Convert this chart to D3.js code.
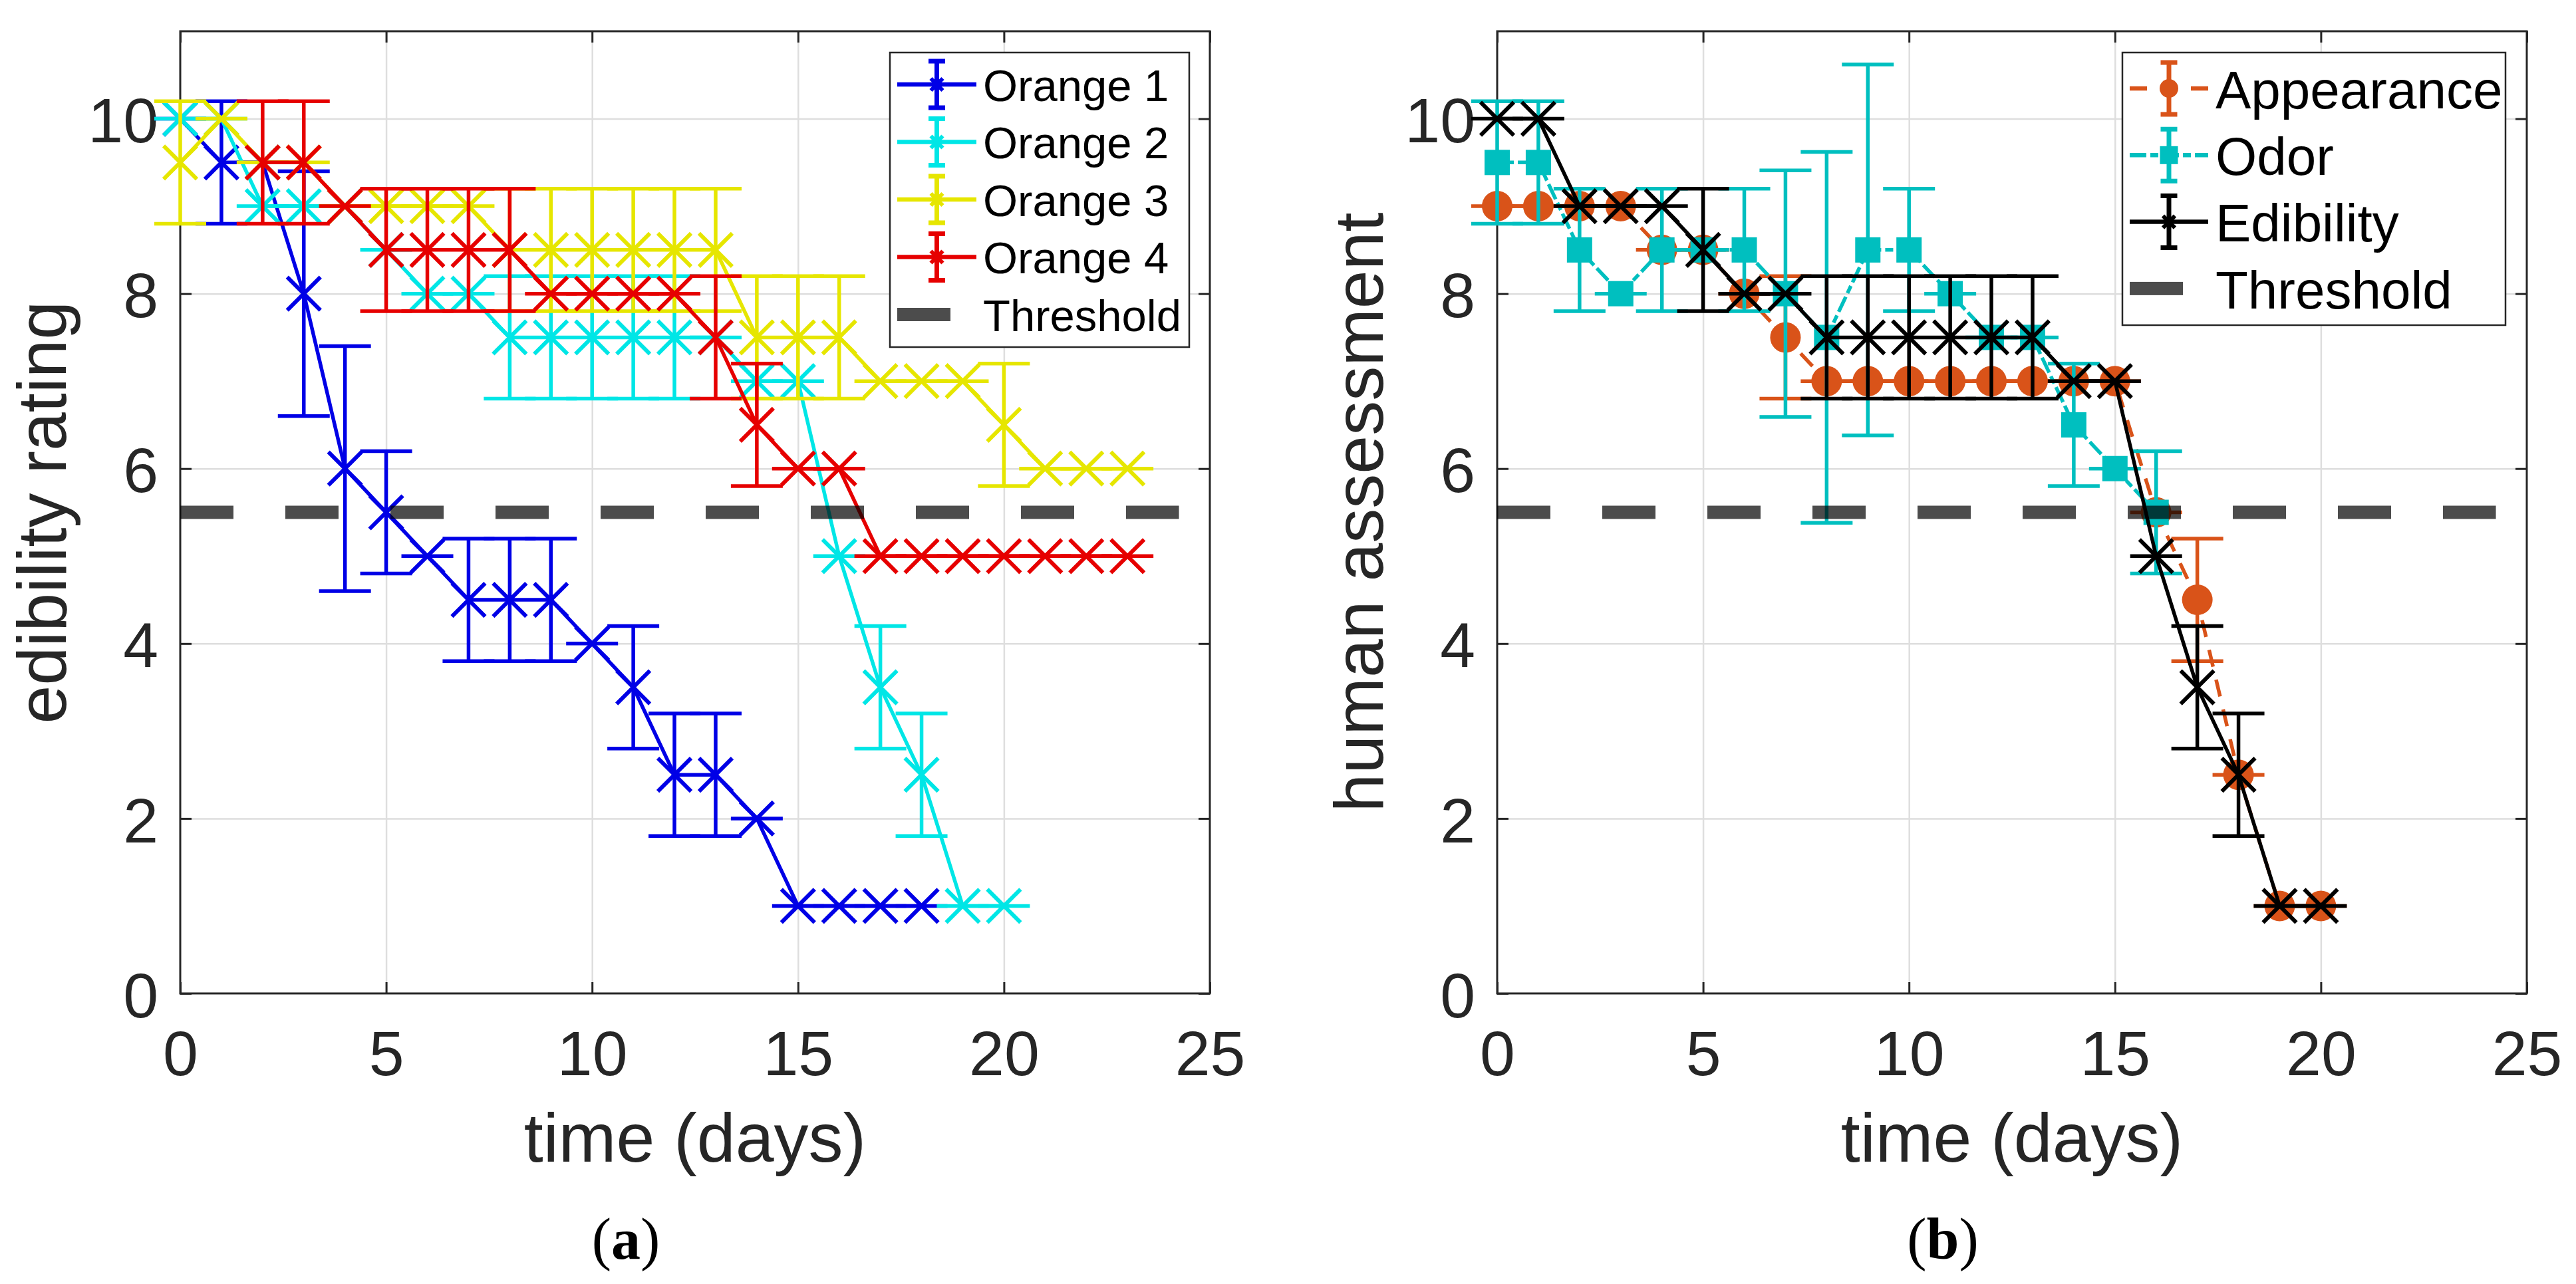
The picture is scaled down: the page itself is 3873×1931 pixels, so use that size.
<!DOCTYPE html>
<html>
<head>
<meta charset="utf-8">
<script src="https://cdn.jsdelivr.net/npm/d3@7"></script>
<style>
  body { margin: 0; background: #fff; }
  svg { display: block; }
</style>
</head>
<body>
<script>

// ---- data ----
const days = [0, 1, 2, 3, 4, 5, 6, 7, 8, 9, 10, 11, 12, 13, 14, 15, 16, 17, 18, 19, 20, 21, 22, 23];
const orange4Days = [2, 3, 4, 5, 6, 7, 8, 9, 10, 11, 12, 13, 14, 15, 16, 17, 18, 19, 20, 21, 22, 23];

const orange1 = [10, 9.5, 9.5, 8, 6, 5.5, 5, 4.5, 4.5, 4.5, 4, 3.5, 2.5, 2.5, 2, 1, 1, 1, 1];
const orange1Err = [0, 0.7, 0, 1.4, 1.4, 0.7, 0, 0.7, 0.7, 0.7, 0, 0.7, 0.7, 0.7, 0, 0, 0, 0, 0];
const orange2 = [10, 10, 9, 9, 9, 8.5, 8, 8, 7.5, 7.5, 7.5, 7.5, 7.5, 7.5, 7, 7, 5, 3.5, 2.5, 1, 1];
const orange2Err = [0, 0, 0, 0, 0, 0, 0, 0, 0.7, 0.7, 0.7, 0.7, 0.7, 0, 0, 0, 0, 0.7, 0.7, 0, 0];
const orange3 = [9.5, 10, 9.5, 9.5, 9, 9, 9, 9, 8.5, 8.5, 8.5, 8.5, 8.5, 8.5, 7.5, 7.5, 7.5, 7, 7, 7, 6.5, 6, 6, 6];
const orange3Err = [0.7, 0, 0, 0, 0, 0, 0, 0, 0.7, 0.7, 0.7, 0.7, 0.7, 0.7, 0.7, 0.7, 0.7, 0, 0, 0, 0.7, 0, 0, 0];
const orange4 = [9.5, 9.5, 9, 8.5, 8.5, 8.5, 8.5, 8, 8, 8, 8, 7.5, 6.5, 6, 6, 5, 5, 5, 5, 5, 5, 5];
const orange4Err = [0.7, 0.7, 0, 0.7, 0.7, 0.7, 0.7, 0, 0, 0, 0, 0.7, 0.7, 0, 0, 0, 0, 0, 0, 0, 0, 0];

const appearance = [9, 9, 9, 9, 8.5, 8.5, 8, 7.5, 7, 7, 7, 7, 7, 7, 7, 7, 5.5, 4.5, 2.5, 1, 1];
const appearanceErr = [0, 0, 0, 0, 0, 0, 0, 0.7, 0, 0, 0, 0, 0, 0, 0, 0, 0, 0.7, 0, 0, 0];
const odor = [9.5, 9.5, 8.5, 8, 8.5, 8.5, 8.5, 8, 7.5, 8.5, 8.5, 8, 7.5, 7.5, 6.5, 6, 5.5];
const odorErr = [0.7, 0.7, 0.7, 0, 0.7, 0, 0.7, 1.41, 2.12, 2.12, 0.7, 0, 0, 0, 0.7, 0, 0.7];
const edibility = [10, 10, 9, 9, 9, 8.5, 8, 8, 7.5, 7.5, 7.5, 7.5, 7.5, 7.5, 7, 7, 5, 3.5, 2.5, 1, 1];
const edibilityErr = [0, 0, 0, 0, 0, 0.7, 0, 0, 0.7, 0.7, 0.7, 0.7, 0.7, 0.7, 0, 0, 0, 0.7, 0.7, 0, 0];

const threshold = 5.5;
const thresholdDays = [0, 24.25];

const xTicks = [0, 5, 10, 15, 20, 25];
const yTicks = [0, 2, 4, 6, 8, 10];

// ---- layout ----
const W = 3873, H = 1931;
const plotTop = 47, plotBottom = 1494;
const sans = "'Liberation Sans', Arial, Helvetica, sans-serif";
const axisColor = "#262626";

const svg = d3.select("body").append("svg")
    .attr("width", W)
    .attr("height", H);

const panels = [
    {
        left: 271, right: 1819,
        ylabel: "edibility rating",
        caption: "a", captionX: 941,
        series: [
            { name: "Orange 1", x: days, y: orange1, e: orange1Err, color: "#0000e6", marker: "x" },
            { name: "Orange 2", x: days, y: orange2, e: orange2Err, color: "#00e6e6", marker: "x" },
            { name: "Orange 3", x: days, y: orange3, e: orange3Err, color: "#e6e600", marker: "x" },
            { name: "Orange 4", x: orange4Days, y: orange4, e: orange4Err, color: "#e60000", marker: "x" }
        ],
        legend: { x0: 1338, x1: 1788, y0: 79, y1: 522, firstRow: 127, step: 86.5,
                  lineX0: 1349, lineX1: 1468, textX: 1478, fontSize: 67, errHalf: 35 }
    },
    {
        left: 2251, right: 3799,
        ylabel: "human assessment",
        caption: "b", captionX: 2921,
        series: [
            { name: "Appearance", x: days, y: appearance, e: appearanceErr, color: "#d95319", marker: "o", dash: "26,20" },
            { name: "Odor", x: days, y: odor, e: odorErr, color: "#00bfbf", marker: "s", dash: "25,6,12,6" },
            { name: "Edibility", x: days, y: edibility, e: edibilityErr, color: "#000000", marker: "x" }
        ],
        legend: { x0: 3191, x1: 3767, y0: 79, y1: 489, firstRow: 133, step: 100.3,
                  lineX0: 3202, lineX1: 3320, textX: 3331, fontSize: 80, errHalf: 39 }
    }
];

function drawMarker(g, shape, cx, cy, color, big) {
    if (shape === "x") {
        const r = big ? 25 : 9;
        g.append("path")
            .attr("d", `M${cx - r},${cy - r}L${cx + r},${cy + r}M${cx - r},${cy + r}L${cx + r},${cy - r}`)
            .attr("stroke", color)
            .attr("stroke-width", 6)
            .attr("fill", "none");
    } else if (shape === "o") {
        g.append("circle")
            .attr("cx", cx).attr("cy", cy)
            .attr("r", big ? 23 : 14)
            .attr("fill", color);
    } else if (shape === "s") {
        const s = big ? 38 : 27;
        g.append("rect")
            .attr("x", cx - s / 2).attr("y", cy - s / 2)
            .attr("width", s).attr("height", s)
            .attr("fill", color);
    }
}

panels.forEach(p => {
    const g = svg.append("g");
    const x = d3.scaleLinear().domain([0, 25]).range([p.left, p.right]);
    const y = d3.scaleLinear().domain([0, 11]).range([plotBottom, plotTop]);

    // grid
    g.append("g")
        .attr("transform", `translate(0,${plotBottom})`)
        .call(d3.axisBottom(x).tickValues(xTicks.slice(1, -1)).tickSize(-(plotBottom - plotTop)).tickFormat(""))
        .call(a => a.select(".domain").remove())
        .selectAll("line").attr("stroke", "#dedede").attr("stroke-width", 2.5);
    g.append("g")
        .attr("transform", `translate(${p.left},0)`)
        .call(d3.axisLeft(y).tickValues(yTicks.slice(1)).tickSize(-(p.right - p.left)).tickFormat(""))
        .call(a => a.select(".domain").remove())
        .selectAll("line").attr("stroke", "#dedede").attr("stroke-width", 2.5);

    // frame
    g.append("rect")
        .attr("x", p.left).attr("y", plotTop)
        .attr("width", p.right - p.left).attr("height", plotBottom - plotTop)
        .attr("fill", "none")
        .attr("stroke", axisColor)
        .attr("stroke-width", 3);

    // axes with inward ticks on all sides
    const styleAxis = a => {
        a.select(".domain").remove();
        a.selectAll("line").attr("stroke", axisColor).attr("stroke-width", 3);
        a.selectAll("text")
            .attr("fill", axisColor)
            .style("font-family", sans)
            .style("font-size", "95px");
    };
    g.append("g")
        .attr("transform", `translate(0,${plotBottom})`)
        .call(d3.axisBottom(x).tickValues(xTicks).tickSizeInner(-17).tickSizeOuter(0).tickPadding(56))
        .call(styleAxis);
    g.append("g")
        .attr("transform", `translate(0,${plotTop})`)
        .call(d3.axisTop(x).tickValues(xTicks).tickSizeInner(-17).tickSizeOuter(0).tickFormat(""))
        .call(styleAxis);
    g.append("g")
        .attr("transform", `translate(${p.left},0)`)
        .call(d3.axisLeft(y).tickValues(yTicks).tickSizeInner(-17).tickSizeOuter(0).tickPadding(33))
        .call(styleAxis)
        .selectAll("text").attr("dy", "0.37em");
    g.append("g")
        .attr("transform", `translate(${p.right},0)`)
        .call(d3.axisRight(y).tickValues(yTicks).tickSizeInner(-17).tickSizeOuter(0).tickFormat(""))
        .call(styleAxis);

    // axis titles
    g.append("text")
        .attr("x", (p.left + p.right) / 2)
        .attr("y", 1747)
        .attr("text-anchor", "middle")
        .attr("fill", axisColor)
        .style("font-family", sans)
        .style("font-size", "104px")
        .text("time (days)");
    g.append("text")
        .attr("transform", `translate(${p.left - 172},${(plotTop + plotBottom) / 2}) rotate(-90)`)
        .attr("text-anchor", "middle")
        .attr("fill", axisColor)
        .style("font-family", sans)
        .style("font-size", "104px")
        .text(p.ylabel);

    // caption
    const cap = g.append("text")
        .attr("x", p.captionX)
        .attr("y", 1893)
        .attr("text-anchor", "middle")
        .attr("fill", "#000")
        .style("font-family", "'Liberation Serif', 'Times New Roman', serif")
        .style("font-size", "88px");
    cap.append("tspan").text("(");
    cap.append("tspan").style("font-weight", "bold").text(p.caption);
    cap.append("tspan").text(")");

    // series
    const capHalf = 39;
    p.series.forEach(s => {
        const sg = g.append("g");
        const pts = s.y.map((v, i) => ({ d: s.x[i], v: v, e: s.e[i] }));

        sg.append("path")
            .datum(pts)
            .attr("fill", "none")
            .attr("stroke", s.color)
            .attr("stroke-width", 5.5)
            .attr("stroke-dasharray", s.dash || null)
            .attr("d", d3.line().x(d => x(d.d)).y(d => y(d.v)));

        pts.forEach(pt => {
            const cx = x(pt.d), yHi = y(pt.v + pt.e), yLo = y(pt.v - pt.e);
            sg.append("path")
                .attr("d", `M${cx},${yHi}L${cx},${yLo}M${cx - capHalf},${yHi}L${cx + capHalf},${yHi}M${cx - capHalf},${yLo}L${cx + capHalf},${yLo}`)
                .attr("stroke", s.color)
                .attr("stroke-width", 5.5)
                .attr("fill", "none");
        });

        pts.forEach(pt => drawMarker(sg, s.marker, x(pt.d), y(pt.v), s.color, true));
    });

    // threshold
    g.append("line")
        .attr("x1", x(thresholdDays[0])).attr("x2", x(thresholdDays[1]))
        .attr("y1", y(threshold)).attr("y2", y(threshold))
        .attr("stroke", "#000")
        .attr("stroke-opacity", 0.7)
        .attr("stroke-width", 20)
        .attr("stroke-dasharray", "80,78");

    // legend
    const L = p.legend;
    const lg = g.append("g");
    lg.append("rect")
        .attr("x", L.x0).attr("y", L.y0)
        .attr("width", L.x1 - L.x0).attr("height", L.y1 - L.y0)
        .attr("fill", "#fff")
        .attr("stroke", axisColor)
        .attr("stroke-width", 2.5);
    const entries = p.series.concat([{ name: "Threshold", threshold: true }]);
    const mid = (L.lineX0 + L.lineX1) / 2;
    entries.forEach((e, i) => {
        const cy = L.firstRow + i * L.step;
        if (e.threshold) {
            lg.append("rect")
                .attr("x", L.lineX0).attr("y", cy - 10)
                .attr("width", 80).attr("height", 20)
                .attr("fill", "#000").attr("fill-opacity", 0.7);
        } else {
            lg.append("line")
                .attr("x1", L.lineX0).attr("x2", L.lineX1)
                .attr("y1", cy).attr("y2", cy)
                .attr("stroke", e.color)
                .attr("stroke-width", 6.5)
                .attr("stroke-dasharray", e.dash || null);
            lg.append("path")
                .attr("d", `M${mid},${cy - L.errHalf}L${mid},${cy + L.errHalf}M${mid - 12.5},${cy - L.errHalf}L${mid + 12.5},${cy - L.errHalf}M${mid - 12.5},${cy + L.errHalf}L${mid + 12.5},${cy + L.errHalf}`)
                .attr("stroke", e.color)
                .attr("stroke-width", 7)
                .attr("fill", "none");
            drawMarker(lg, e.marker, mid, cy, e.color, false);
        }
        lg.append("text")
            .attr("x", L.textX)
            .attr("y", cy + L.fontSize * 0.37)
            .attr("fill", "#000")
            .style("font-family", sans)
            .style("font-size", L.fontSize + "px")
            .text(e.name);
    });
});

</script>
</body>
</html>
